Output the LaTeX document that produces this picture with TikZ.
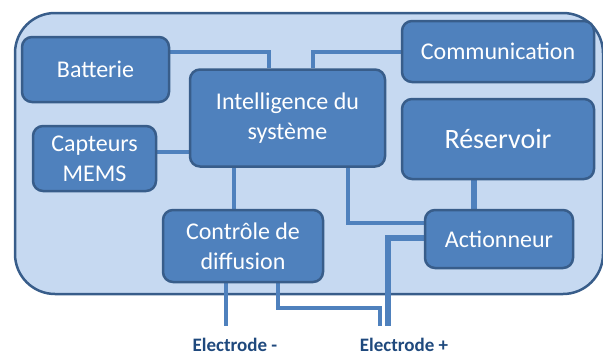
\documentclass[tikz,border=0pt]{standalone}
\usepackage{fontspec}
\setmainfont{Carlito}
\usetikzlibrary{backgrounds}
\definecolor{boite}{HTML}{4F81BD}
\definecolor{bord}{HTML}{385D8A}
\definecolor{fond}{HTML}{C6D9F1}
\definecolor{texte}{HTML}{1F497D}
\tikzset{
  bloc/.style={draw=bord, line width=2.5pt, fill=boite, rounded corners=10pt,
    text=white, align=center, inner sep=0pt,
    font=\fontsize{24}{30}\selectfont},
  lien/.style={draw=boite, line width=3.5pt},
  gros/.style={draw=boite, line width=6.5pt},
  electrode/.style={text=texte, font=\fontsize{19}{22}\bfseries}
}
\begin{document}
\begin{tikzpicture}[x=1pt,y=-1pt]
\useasboundingbox (0,0) rectangle (603,356);
% blocs
\node[bloc, minimum width=147pt, minimum height=65pt] (batt) at (95.5,69.5) {Batterie};
\node[bloc, minimum width=192pt, minimum height=61pt] (comm) at (498,51.5) {Communication};
\node[bloc, minimum width=195pt, minimum height=97pt] (intel) at (287.5,118) {Intelligence du\\syst\`eme};
\node[bloc, minimum width=123pt, minimum height=65pt] (capt) at (94.5,158.5) {Capteurs\\MEMS};
\node[bloc, minimum width=192pt, minimum height=80pt, font=\fontsize{28}{32}\selectfont] (res) at (498,139) {R\'eservoir};
\node[bloc, minimum width=160pt, minimum height=72pt] (ctrl) at (243,246) {Contr\^ole de\\diffusion};
\node[bloc, minimum width=148pt, minimum height=58pt] (act) at (499,239) {Actionneur};
% electrodes
\node[electrode] (elm) at (235,345) {Electrode -};
\node[electrode] (elp) at (404,345) {Electrode +};
\coordinate (bm) at (226,326);
\coordinate (bp) at (388,326);
\coordinate (bq) at (380,326);
% liens
\begin{scope}[on background layer]
\draw[bord, fill=fond, line width=2.5pt, rounded corners=40pt] (15,13) rectangle (603,294);
\draw[lien] (batt.east |- 0,52) -| (269,0 |- intel.north);
\draw[lien] (comm.west |- 0,52) -| (313,0 |- intel.north);
\draw[lien] (capt.east |- 0,152) -- (intel.west |- 0,152);
\draw[lien] (intel.south -| 234,0) -- (ctrl.north -| 234,0);
\draw[lien] (intel.south -| 348,0) |- (act.west |- 0,223);
\draw[gros] (res.south -| 474,0) -- (act.north -| 474,0);
\draw[gros] (act.west |- 0,238) -| (bp);
\draw[lien] (ctrl.south -| bm) -- (bm);
\draw[lien] (ctrl.south -| 278,0) |- (bq |- 0,308) -- (bq);
\end{scope}
\end{tikzpicture}
\end{document}
